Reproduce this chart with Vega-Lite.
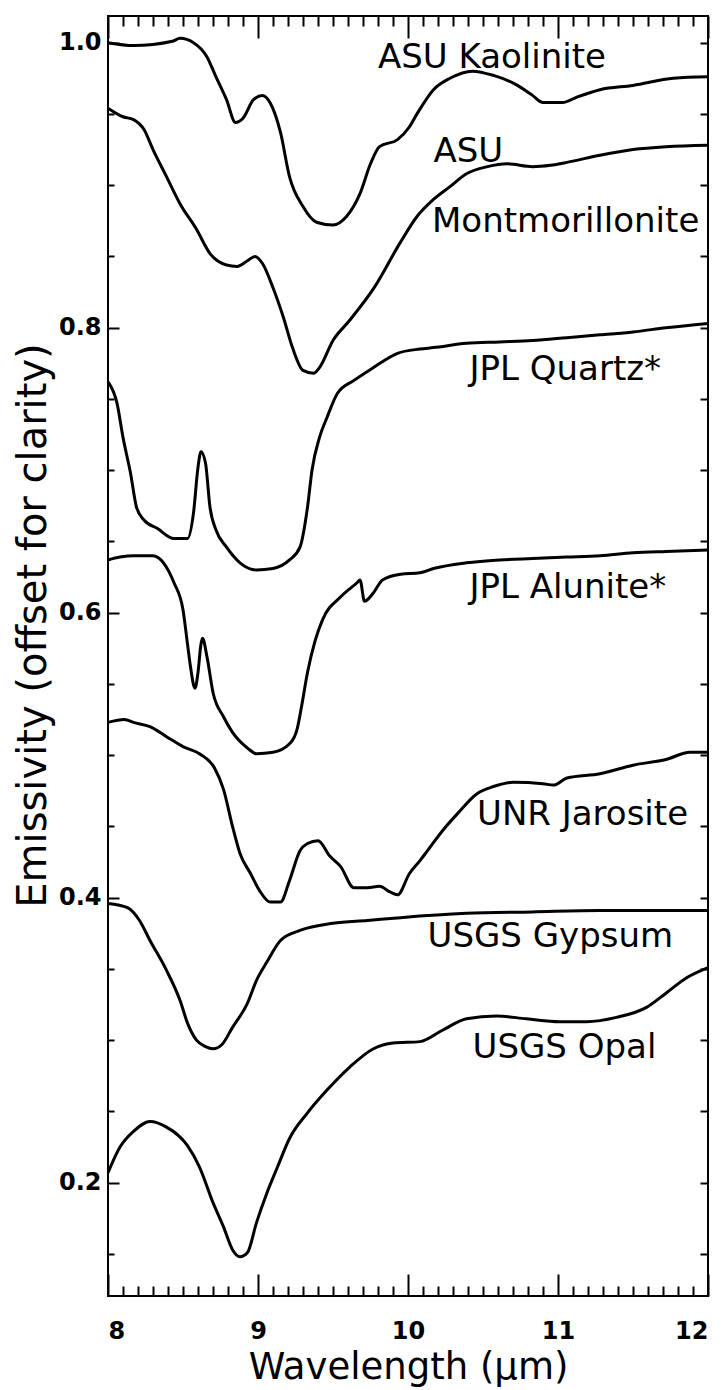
{
  "$schema": "https://vega.github.io/schema/vega-lite/v6.json",
  "autosize": {"type": "none"},
  "padding": {"left": 108, "top": 16, "right": 19, "bottom": 94},
  "width": 600,
  "height": 1280,
  "background": "white",
  "config": {
    "view": {"stroke": "black", "strokeWidth": 2},
    "axis": {"grid": false, "domain": false, "tickColor": "black", "tickWidth": 2, "labelColor": "black", "labelFont": "DejaVu Sans", "labelFontWeight": "bold", "labelFontSize": 24, "titleFont": "DejaVu Sans", "titleFontWeight": "normal", "titleColor": "black"}
  },
  "datasets": {
    "spectra": [
      {"s":"K","x":8.0,"y":1.0},{"s":"K","x":8.17,"y":0.998},{"s":"K","x":8.43,"y":1.001},{"s":"K","x":8.48,"y":1.003},{"s":"K","x":8.57,"y":1.0},{"s":"K","x":8.66,"y":0.99},{"s":"K","x":8.72,"y":0.976},{"s":"K","x":8.79,"y":0.96},{"s":"K","x":8.85,"y":0.944},{"s":"K","x":8.9,"y":0.947},{"s":"K","x":8.97,"y":0.96},{"s":"K","x":9.03,"y":0.963},{"s":"K","x":9.08,"y":0.958},{"s":"K","x":9.15,"y":0.937},{"s":"K","x":9.21,"y":0.906},{"s":"K","x":9.3,"y":0.885},{"s":"K","x":9.39,"y":0.874},{"s":"K","x":9.5,"y":0.872},{"s":"K","x":9.59,"y":0.878},{"s":"K","x":9.68,"y":0.894},{"s":"K","x":9.75,"y":0.915},{"s":"K","x":9.81,"y":0.927},{"s":"K","x":9.93,"y":0.932},{"s":"K","x":10.01,"y":0.941},{"s":"K","x":10.06,"y":0.95},{"s":"K","x":10.17,"y":0.967},{"s":"K","x":10.28,"y":0.975},{"s":"K","x":10.43,"y":0.98},{"s":"K","x":10.57,"y":0.977},{"s":"K","x":10.73,"y":0.97},{"s":"K","x":10.83,"y":0.963},{"s":"K","x":10.9,"y":0.958},{"s":"K","x":11.03,"y":0.958},{"s":"K","x":11.13,"y":0.962},{"s":"K","x":11.28,"y":0.967},{"s":"K","x":11.5,"y":0.97},{"s":"K","x":11.77,"y":0.975},{"s":"K","x":12.0,"y":0.976},
      {"s":"M","x":8.0,"y":0.954},{"s":"M","x":8.1,"y":0.948},{"s":"M","x":8.17,"y":0.946},{"s":"M","x":8.24,"y":0.939},{"s":"M","x":8.3,"y":0.925},{"s":"M","x":8.39,"y":0.906},{"s":"M","x":8.48,"y":0.887},{"s":"M","x":8.59,"y":0.869},{"s":"M","x":8.68,"y":0.852},{"s":"M","x":8.79,"y":0.844},{"s":"M","x":8.86,"y":0.843},{"s":"M","x":8.93,"y":0.847},{"s":"M","x":8.98,"y":0.85},{"s":"M","x":9.03,"y":0.845},{"s":"M","x":9.1,"y":0.828},{"s":"M","x":9.17,"y":0.807},{"s":"M","x":9.23,"y":0.786},{"s":"M","x":9.3,"y":0.77},{"s":"M","x":9.37,"y":0.768},{"s":"M","x":9.41,"y":0.772},{"s":"M","x":9.5,"y":0.791},{"s":"M","x":9.61,"y":0.805},{"s":"M","x":9.78,"y":0.829},{"s":"M","x":9.95,"y":0.86},{"s":"M","x":10.06,"y":0.878},{"s":"M","x":10.17,"y":0.89},{"s":"M","x":10.28,"y":0.899},{"s":"M","x":10.39,"y":0.908},{"s":"M","x":10.53,"y":0.913},{"s":"M","x":10.66,"y":0.915},{"s":"M","x":10.83,"y":0.913},{"s":"M","x":10.95,"y":0.914},{"s":"M","x":11.06,"y":0.916},{"s":"M","x":11.28,"y":0.921},{"s":"M","x":11.5,"y":0.925},{"s":"M","x":11.72,"y":0.927},{"s":"M","x":12.0,"y":0.928},
      {"s":"Q","x":8.0,"y":0.762},{"s":"Q","x":8.06,"y":0.747},{"s":"Q","x":8.1,"y":0.723},{"s":"Q","x":8.15,"y":0.698},{"s":"Q","x":8.19,"y":0.674},{"s":"Q","x":8.24,"y":0.665},{"s":"Q","x":8.33,"y":0.659},{"s":"Q","x":8.44,"y":0.652},{"s":"Q","x":8.53,"y":0.652},{"s":"Q","x":8.57,"y":0.67},{"s":"Q","x":8.6,"y":0.702},{"s":"Q","x":8.62,"y":0.713},{"s":"Q","x":8.65,"y":0.705},{"s":"Q","x":8.68,"y":0.674},{"s":"Q","x":8.72,"y":0.658},{"s":"Q","x":8.79,"y":0.646},{"s":"Q","x":8.88,"y":0.635},{"s":"Q","x":8.99,"y":0.63},{"s":"Q","x":9.1,"y":0.631},{"s":"Q","x":9.21,"y":0.637},{"s":"Q","x":9.28,"y":0.646},{"s":"Q","x":9.33,"y":0.674},{"s":"Q","x":9.36,"y":0.7},{"s":"Q","x":9.41,"y":0.723},{"s":"Q","x":9.46,"y":0.737},{"s":"Q","x":9.53,"y":0.754},{"s":"Q","x":9.64,"y":0.763},{"s":"Q","x":9.77,"y":0.772},{"s":"Q","x":9.93,"y":0.782},{"s":"Q","x":10.08,"y":0.785},{"s":"Q","x":10.17,"y":0.786},{"s":"Q","x":10.39,"y":0.789},{"s":"Q","x":10.61,"y":0.79},{"s":"Q","x":10.83,"y":0.791},{"s":"Q","x":11.06,"y":0.793},{"s":"Q","x":11.28,"y":0.795},{"s":"Q","x":11.5,"y":0.797},{"s":"Q","x":11.72,"y":0.8},{"s":"Q","x":12.0,"y":0.803},
      {"s":"A","x":8.0,"y":0.637},{"s":"A","x":8.08,"y":0.639},{"s":"A","x":8.17,"y":0.64},{"s":"A","x":8.3,"y":0.64},{"s":"A","x":8.37,"y":0.635},{"s":"A","x":8.44,"y":0.621},{"s":"A","x":8.5,"y":0.602},{"s":"A","x":8.53,"y":0.578},{"s":"A","x":8.55,"y":0.562},{"s":"A","x":8.58,"y":0.547},{"s":"A","x":8.6,"y":0.558},{"s":"A","x":8.62,"y":0.578},{"s":"A","x":8.63,"y":0.582},{"s":"A","x":8.66,"y":0.569},{"s":"A","x":8.7,"y":0.544},{"s":"A","x":8.77,"y":0.527},{"s":"A","x":8.83,"y":0.516},{"s":"A","x":8.93,"y":0.505},{"s":"A","x":8.99,"y":0.501},{"s":"A","x":9.1,"y":0.502},{"s":"A","x":9.21,"y":0.508},{"s":"A","x":9.26,"y":0.518},{"s":"A","x":9.29,"y":0.534},{"s":"A","x":9.33,"y":0.558},{"s":"A","x":9.38,"y":0.58},{"s":"A","x":9.43,"y":0.595},{"s":"A","x":9.55,"y":0.611},{"s":"A","x":9.66,"y":0.621},{"s":"A","x":9.68,"y":0.623},{"s":"A","x":9.71,"y":0.608},{"s":"A","x":9.77,"y":0.614},{"s":"A","x":9.83,"y":0.623},{"s":"A","x":9.95,"y":0.627},{"s":"A","x":10.08,"y":0.628},{"s":"A","x":10.17,"y":0.631},{"s":"A","x":10.39,"y":0.635},{"s":"A","x":10.61,"y":0.637},{"s":"A","x":10.83,"y":0.638},{"s":"A","x":11.06,"y":0.639},{"s":"A","x":11.28,"y":0.64},{"s":"A","x":11.5,"y":0.642},{"s":"A","x":11.72,"y":0.643},{"s":"A","x":12.0,"y":0.644},
      {"s":"J","x":8.0,"y":0.523},{"s":"J","x":8.11,"y":0.525},{"s":"J","x":8.17,"y":0.523},{"s":"J","x":8.28,"y":0.52},{"s":"J","x":8.39,"y":0.513},{"s":"J","x":8.5,"y":0.506},{"s":"J","x":8.61,"y":0.501},{"s":"J","x":8.71,"y":0.491},{"s":"J","x":8.77,"y":0.476},{"s":"J","x":8.83,"y":0.45},{"s":"J","x":8.88,"y":0.431},{"s":"J","x":8.95,"y":0.417},{"s":"J","x":9.01,"y":0.405},{"s":"J","x":9.08,"y":0.397},{"s":"J","x":9.15,"y":0.397},{"s":"J","x":9.21,"y":0.412},{"s":"J","x":9.28,"y":0.433},{"s":"J","x":9.33,"y":0.438},{"s":"J","x":9.4,"y":0.44},{"s":"J","x":9.48,"y":0.429},{"s":"J","x":9.55,"y":0.422},{"s":"J","x":9.64,"y":0.407},{"s":"J","x":9.73,"y":0.407},{"s":"J","x":9.81,"y":0.408},{"s":"J","x":9.88,"y":0.404},{"s":"J","x":9.93,"y":0.402},{"s":"J","x":10.01,"y":0.417},{"s":"J","x":10.08,"y":0.426},{"s":"J","x":10.13,"y":0.433},{"s":"J","x":10.23,"y":0.447},{"s":"J","x":10.33,"y":0.459},{"s":"J","x":10.46,"y":0.473},{"s":"J","x":10.57,"y":0.478},{"s":"J","x":10.7,"y":0.481},{"s":"J","x":10.9,"y":0.48},{"s":"J","x":10.97,"y":0.479},{"s":"J","x":11.06,"y":0.484},{"s":"J","x":11.28,"y":0.487},{"s":"J","x":11.5,"y":0.493},{"s":"J","x":11.72,"y":0.497},{"s":"J","x":11.88,"y":0.502},{"s":"J","x":12.0,"y":0.502},
      {"s":"G","x":8.0,"y":0.396},{"s":"G","x":8.13,"y":0.393},{"s":"G","x":8.21,"y":0.384},{"s":"G","x":8.28,"y":0.37},{"s":"G","x":8.39,"y":0.349},{"s":"G","x":8.48,"y":0.328},{"s":"G","x":8.53,"y":0.312},{"s":"G","x":8.59,"y":0.3},{"s":"G","x":8.65,"y":0.2955},{"s":"G","x":8.7,"y":0.294},{"s":"G","x":8.76,"y":0.297},{"s":"G","x":8.83,"y":0.309},{"s":"G","x":8.93,"y":0.326},{"s":"G","x":8.99,"y":0.342},{"s":"G","x":9.06,"y":0.355},{"s":"G","x":9.15,"y":0.37},{"s":"G","x":9.28,"y":0.377},{"s":"G","x":9.5,"y":0.382},{"s":"G","x":9.73,"y":0.384},{"s":"G","x":9.95,"y":0.386},{"s":"G","x":10.39,"y":0.389},{"s":"G","x":10.83,"y":0.39},{"s":"G","x":11.28,"y":0.391},{"s":"G","x":12.0,"y":0.391},
      {"s":"O","x":8.0,"y":0.207},{"s":"O","x":8.08,"y":0.225},{"s":"O","x":8.17,"y":0.236},{"s":"O","x":8.28,"y":0.243},{"s":"O","x":8.39,"y":0.239},{"s":"O","x":8.53,"y":0.226},{"s":"O","x":8.61,"y":0.211},{"s":"O","x":8.7,"y":0.186},{"s":"O","x":8.77,"y":0.169},{"s":"O","x":8.83,"y":0.153},{"s":"O","x":8.88,"y":0.148},{"s":"O","x":8.93,"y":0.151},{"s":"O","x":8.99,"y":0.172},{"s":"O","x":9.06,"y":0.193},{"s":"O","x":9.13,"y":0.211},{"s":"O","x":9.21,"y":0.231},{"s":"O","x":9.33,"y":0.249},{"s":"O","x":9.46,"y":0.265},{"s":"O","x":9.61,"y":0.281},{"s":"O","x":9.77,"y":0.294},{"s":"O","x":9.9,"y":0.298},{"s":"O","x":10.08,"y":0.299},{"s":"O","x":10.23,"y":0.307},{"s":"O","x":10.39,"y":0.315},{"s":"O","x":10.59,"y":0.317},{"s":"O","x":10.79,"y":0.315},{"s":"O","x":11.01,"y":0.313},{"s":"O","x":11.19,"y":0.313},{"s":"O","x":11.39,"y":0.316},{"s":"O","x":11.59,"y":0.323},{"s":"O","x":11.72,"y":0.333},{"s":"O","x":11.86,"y":0.344},{"s":"O","x":12.0,"y":0.351}
    ],
    "labels": [
      {"t":"ASU Kaolinite","x":9.8,"y":0.9823},
      {"t":"ASU","x":10.17,"y":0.9163},
      {"t":"Montmorillonite","x":10.16,"y":0.8672},
      {"t":"JPL Quartz*","x":10.41,"y":0.7633},
      {"t":"JPL Alunite*","x":10.41,"y":0.6104},
      {"t":"UNR Jarosite","x":10.46,"y":0.451},
      {"t":"USGS Gypsum","x":10.13,"y":0.3654},
      {"t":"USGS Opal","x":10.43,"y":0.2876}
    ]
  },
  "resolve": {"axis": {"x": "independent", "y": "independent"}},
  "layer": [
    {
      "data": {"name": "spectra"},
      "mark": {"type": "line", "color": "black", "strokeWidth": 3, "interpolate": "monotone"},
      "encoding": {
        "x": {"field": "x", "type": "quantitative", "scale": {"domain": [8, 12], "nice": false, "zero": false},
              "axis": {"orient": "bottom", "values": [8, 9, 10, 11, 12], "offset": -22, "tickSize": 22, "labelPadding": 23, "title": "Wavelength (μm)", "titleFontSize": 37, "titlePadding": 6}},
        "y": {"field": "y", "type": "quantitative", "scale": {"domain": [0.1205, 1.0187], "nice": false, "zero": false},
              "axis": {"orient": "left", "values": [0.2, 0.4, 0.6, 0.8, 1.0], "format": ".1f", "offset": -11, "tickSize": 11, "labelPadding": 7, "title": "Emissivity (offset for clarity)", "titleFontSize": 40, "titlePadding": 5, "titleY": 609}},
        "detail": {"field": "s"}
      }
    },
    {
      "data": {"name": "spectra"},
      "mark": {"type": "line", "strokeOpacity": 0},
      "encoding": {
        "x": {"field": "x", "type": "quantitative", "scale": {"domain": [8, 12], "nice": false, "zero": false},
              "axis": {"orient": "bottom", "values": [8.1,8.2,8.3,8.4,8.5,8.6,8.7,8.8,8.9,9.1,9.2,9.3,9.4,9.5,9.6,9.7,9.8,9.9,10.1,10.2,10.3,10.4,10.5,10.6,10.7,10.8,10.9,11.1,11.2,11.3,11.4,11.5,11.6,11.7,11.8,11.9], "offset": -10, "tickSize": 10, "labels": false, "title": null}},
        "y": {"field": "y", "type": "quantitative", "scale": {"domain": [0.1205, 1.0187], "nice": false, "zero": false},
              "axis": {"orient": "left", "values": [0.15,0.25,0.3,0.35,0.45,0.5,0.55,0.65,0.7,0.75,0.85,0.9,0.95], "offset": -6, "tickSize": 6, "labels": false, "title": null}},
        "detail": {"field": "s"}
      }
    },
    {
      "data": {"name": "spectra"},
      "mark": {"type": "line", "strokeOpacity": 0},
      "encoding": {
        "x": {"field": "x", "type": "quantitative", "scale": {"domain": [8, 12], "nice": false, "zero": false},
              "axis": {"orient": "top", "values": [8, 9, 10, 11, 12], "offset": -22, "tickSize": 22, "labels": false, "title": null}},
        "y": {"field": "y", "type": "quantitative", "scale": {"domain": [0.1205, 1.0187], "nice": false, "zero": false},
              "axis": {"orient": "right", "values": [0.15,0.2,0.25,0.3,0.35,0.4,0.45,0.5,0.55,0.6,0.65,0.7,0.75,0.8,0.85,0.9,0.95,1.0], "offset": -8, "tickSize": 8, "labels": false, "title": null}},
        "detail": {"field": "s"}
      }
    },
    {
      "data": {"name": "spectra"},
      "mark": {"type": "line", "strokeOpacity": 0},
      "encoding": {
        "x": {"field": "x", "type": "quantitative", "scale": {"domain": [8, 12], "nice": false, "zero": false},
              "axis": {"orient": "top", "values": [8.1,8.2,8.3,8.4,8.5,8.6,8.7,8.8,8.9,9.1,9.2,9.3,9.4,9.5,9.6,9.7,9.8,9.9,10.1,10.2,10.3,10.4,10.5,10.6,10.7,10.8,10.9,11.1,11.2,11.3,11.4,11.5,11.6,11.7,11.8,11.9], "offset": -10, "tickSize": 10, "labels": false, "title": null}},
        "y": {"field": "y", "type": "quantitative", "scale": {"domain": [0.1205, 1.0187], "nice": false, "zero": false}, "axis": null},
        "detail": {"field": "s"}
      }
    },
    {
      "data": {"name": "labels"},
      "mark": {"type": "text", "align": "left", "baseline": "alphabetic", "font": "DejaVu Sans", "fontSize": 34, "color": "black"},
      "encoding": {
        "x": {"field": "x", "type": "quantitative", "scale": {"domain": [8, 12], "nice": false, "zero": false}, "axis": null},
        "y": {"field": "y", "type": "quantitative", "scale": {"domain": [0.1205, 1.0187], "nice": false, "zero": false}, "axis": null},
        "text": {"field": "t"}
      }
    }
  ]
}
